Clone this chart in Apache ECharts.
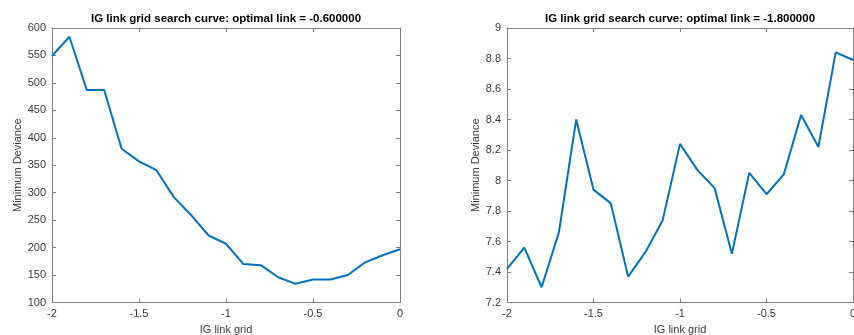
<!DOCTYPE html>
<html>
<head>
<meta charset="utf-8">
<script src="https://cdn.jsdelivr.net/npm/echarts@6/dist/echarts.min.js"></script>
<style>
  html, body { margin: 0; padding: 0; background: #fff; }
  #chart { width: 854px; height: 335px; }
</style>
</head>
<body>
<div id="chart"></div>
<script>
// Link grid values (shared x positions for both panels)
const linkGrid = [-2, -1.9, -1.8, -1.7, -1.6, -1.5, -1.4, -1.3, -1.2, -1.1, -1,
                  -0.9, -0.8, -0.7, -0.6, -0.5, -0.4, -0.3, -0.2, -0.1, 0];

// Minimum deviance per link value, left panel
const devianceLeft = [549, 584, 487, 487, 380, 357, 341, 292, 259, 222, 207,
                      170, 168, 146, 134, 142, 142, 150, 173, 186, 197];

// Minimum deviance per link value, right panel
const devianceRight = [7.42, 7.56, 7.30, 7.66, 8.40, 7.94, 7.85, 7.37, 7.53, 7.74, 8.24,
                       8.07, 7.95, 7.52, 8.05, 7.91, 8.04, 8.43, 8.22, 8.84, 8.79];

const titles = [
  'IG link grid search curve: optimal link = -0.600000',
  'IG link grid search curve: optimal link = -1.800000'
];
const xTickLabels = ['-2', '-1.5', '-1', '-0.5', '0'];

const FONT = '"Liberation Sans", Arial, Helvetica, sans-serif';
const AXIS_COLOR = '#808080';
const TEXT_COLOR = '#3a3a3a';
const LINE_COLOR = '#0072BD';

const grids = [
  { left: 52, width: 348, top: 28, bottom: 32.5, outerBoundsMode: 'none', containLabel: false },
  { left: 507, width: 346, top: 28, bottom: 32.5, outerBoundsMode: 'none', containLabel: false }
];
const yRanges = [
  { min: 100, max: 600, interval: 50, decimals: 0, nameGap: 28 },
  { min: 7.2, max: 9, interval: 0.2, decimals: 1, nameGap: 24 }
];

function pairs(ys) { return linkGrid.map((x, i) => [x, ys[i]]); }

const xAxes = [], yAxes = [];
grids.forEach((g, i) => {
  // bottom axis with labels
  xAxes.push({
    type: 'value', gridIndex: i, min: -2, max: 0, interval: 0.5, position: 'bottom',
    name: 'IG link grid', nameLocation: 'middle', nameGap: 20,
    nameTextStyle: { fontFamily: FONT, fontSize: 11, color: TEXT_COLOR },
    axisLine: { show: true, onZero: false, lineStyle: { color: AXIS_COLOR, width: 1 } },
    axisTick: { show: true, inside: true, length: 4, lineStyle: { color: AXIS_COLOR } },
    axisLabel: { fontFamily: FONT, fontSize: 11, color: TEXT_COLOR, margin: 6,
                 formatter: v => xTickLabels[Math.round((v + 2) / 0.5)] },
    splitLine: { show: false }
  });
  // top border with inward ticks
  xAxes.push({
    type: 'value', gridIndex: i, min: -2, max: 0, interval: 0.5, position: 'top',
    axisLine: { show: true, onZero: false, lineStyle: { color: AXIS_COLOR, width: 1 } },
    axisTick: { show: true, inside: true, length: 4, lineStyle: { color: AXIS_COLOR } },
    axisLabel: { show: false }, splitLine: { show: false }
  });
  const r = yRanges[i];
  yAxes.push({
    type: 'value', gridIndex: i, min: r.min, max: r.max, interval: r.interval, position: 'left',
    name: 'Minimum Deviance', nameLocation: 'middle', nameGap: r.nameGap, nameRotate: 90,
    nameTextStyle: { fontFamily: FONT, fontSize: 11, color: TEXT_COLOR },
    axisLine: { show: true, onZero: false, lineStyle: { color: AXIS_COLOR, width: 1 } },
    axisTick: { show: true, inside: true, length: 4, lineStyle: { color: AXIS_COLOR } },
    axisLabel: { fontFamily: FONT, fontSize: 11, color: TEXT_COLOR, margin: 6,
                 formatter: v => r.decimals ? (Math.abs(v - Math.round(v)) < 1e-9 ? String(Math.round(v)) : v.toFixed(1)) : String(v) },
    splitLine: { show: false }
  });
  yAxes.push({
    type: 'value', gridIndex: i, min: r.min, max: r.max, interval: r.interval, position: 'right',
    axisLine: { show: true, onZero: false, lineStyle: { color: AXIS_COLOR, width: 1 } },
    axisTick: { show: true, inside: true, length: 4, lineStyle: { color: AXIS_COLOR } },
    axisLabel: { show: false }, splitLine: { show: false }
  });
});

const chart = echarts.init(document.getElementById('chart'), null, { renderer: 'canvas' });
chart.setOption({
  animation: false,
  backgroundColor: '#ffffff',
  // panel titles, centred over each plot box
  graphic: titles.map((t, i) => ({
    type: 'text',
    x: grids[i].left + grids[i].width / 2,
    y: 19,
    style: {
      text: t, align: 'center', verticalAlign: 'middle',
      font: 'bold 11.5px ' + FONT, fill: '#000'
    }
  })),
  grid: grids,
  xAxis: xAxes,
  yAxis: yAxes,
  series: [
    { type: 'line', xAxisIndex: 0, yAxisIndex: 0, data: pairs(devianceLeft),
      showSymbol: false, lineStyle: { color: LINE_COLOR, width: 2 } },
    { type: 'line', xAxisIndex: 2, yAxisIndex: 2, data: pairs(devianceRight),
      showSymbol: false, lineStyle: { color: LINE_COLOR, width: 2 } }
  ]
});
</script>
</body>
</html>
